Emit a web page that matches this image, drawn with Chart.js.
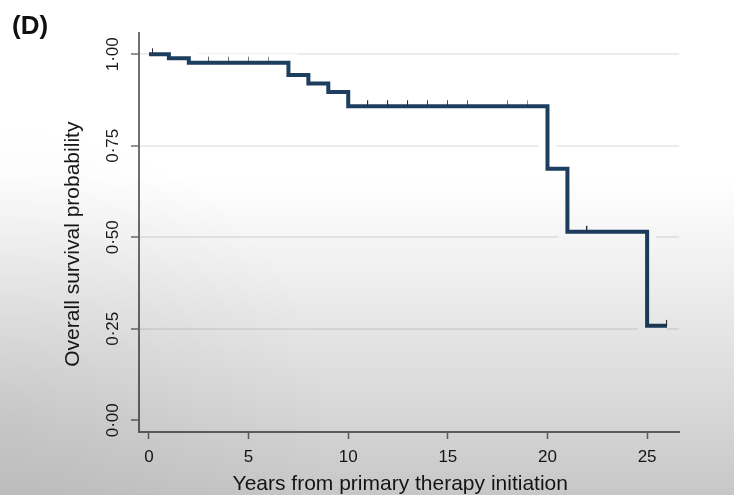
<!DOCTYPE html>
<html>
<head>
<meta charset="utf-8">
<script src="https://cdn.jsdelivr.net/npm/chart.js@4.4.1/dist/chart.umd.min.js"></script>
<style>
  html, body { margin: 0; padding: 0; background: #fff; }
  #wrap { position: relative; width: 734px; height: 495px; }
  #shade {
    position: absolute; left: 0; top: 0; width: 734px; height: 495px; pointer-events: none;
    background:
      radial-gradient(ellipse 45% 60% at 0% 85%, rgba(0,0,0,0.07), rgba(0,0,0,0) 100%),
      linear-gradient(to bottom, rgba(0,0,0,0) 36%, rgba(0,0,0,0.05) 52%, rgba(0,0,0,0.13) 75%, rgba(0,0,0,0.22) 100%);
  }
</style>
</head>
<body>
<div id="wrap">
  <canvas id="km" width="734" height="495"></canvas>
  <div id="shade"></div>
</div>
<script>
// Kaplan-Meier steps (value after each drop)
const years = [0, 1, 2, 7, 8, 9, 10, 20, 21, 25, 26];
const survival = [1.0, 0.989, 0.977, 0.943, 0.920, 0.897, 0.858, 0.687, 0.515, 0.258, 0.258];

// censored observations
const censorYears = [0.2, 3, 4, 5, 6, 11, 12, 13, 14, 15, 16, 18, 19, 22, 26];
const censorSurvival = [1.0, 0.977, 0.977, 0.977, 0.977, 0.858, 0.858, 0.858, 0.858, 0.858, 0.858, 0.858, 0.858, 0.515, 0.258];

const xTicks = [0, 5, 10, 15, 20, 25];
const yTicks = [0, 0.25, 0.5, 0.75, 1];
const yTickLabels = ['0·00', '0·25', '0·50', '0·75', '1·00'];

const navy = '#1e3e60';
const axisGrey = '#6f6f6f';

// small upward tick used as point style for censored points
const tick = document.createElement('canvas');
tick.width = 2;
tick.height = 14;
const tctx = tick.getContext('2d');
tctx.fillStyle = '#2a2f36';
tctx.fillRect(0, 1, 1, 6);

const curve = years.map((x, i) => ({ x: x, y: survival[i] }));
const censored = censorYears.map((x, i) => ({ x: x, y: censorSurvival[i] }));

new Chart(document.getElementById('km'), {
  type: 'line',
  data: {
    datasets: [
      {
        label: 'censored',
        data: censored,
        showLine: false,
        pointStyle: tick,
        pointRadius: 5,
        order: 0
      },
      {
        label: 'survival',
        data: curve,
        stepped: true,
        borderColor: navy,
        borderWidth: 4,
        borderJoinStyle: 'miter',
        pointRadius: 0,
        fill: false,
        order: 1
      },
      {
        label: 'halo',
        data: curve,
        stepped: true,
        borderColor: '#ffffff',
        borderWidth: 18,
        pointRadius: 0,
        fill: false,
        order: 2
      }
    ]
  },
  options: {
    responsive: false,
    animation: false,
    layout: { padding: { left: 12, right: 55, top: 0, bottom: 0 } },
    plugins: {
      legend: { display: false },
      tooltip: { enabled: false },
      title: {
        display: true,
        text: '(D)',
        align: 'start',
        color: '#111',
        font: { family: 'Liberation Sans, Arial, sans-serif', size: 26, weight: 'bold', lineHeight: 1 },
        padding: { top: 14, bottom: -7 }
      }
    },
    scales: {
      x: {
        type: 'linear',
        min: -0.5,
        max: 26.6,
        afterFit: s => { s.height = 63; },
        afterBuildTicks: s => { s.ticks = xTicks.map(v => ({ value: v })); },
        border: { display: true, color: axisGrey, width: 2 },
        grid: { display: true, drawOnChartArea: false, drawTicks: true, tickLength: 7, tickColor: axisGrey, tickWidth: 1.5 },
        ticks: {
          color: '#1a1a1a',
          padding: 8,
          maxRotation: 0,
          font: { family: 'Liberation Sans, Arial, sans-serif', size: 17 }
        },
        title: {
          display: true,
          text: 'Years from primary therapy initiation   ',
          color: '#1a1a1a',
          font: { family: 'Liberation Sans, Arial, sans-serif', size: 21, lineHeight: 1.2 },
          padding: { top: 0, bottom: -2 }
        }
      },
      y: {
        type: 'linear',
        min: -0.032,
        max: 1.058,
        afterFit: s => { s.width = 127; },
        afterBuildTicks: s => { s.ticks = yTicks.map(v => ({ value: v })); },
        border: { display: true, color: axisGrey, width: 2 },
        grid: {
          display: true,
          drawTicks: true,
          tickLength: 8,
          tickColor: axisGrey,
          tickWidth: 1.5,
          lineWidth: 2,
          color: c => (c.tick && c.tick.value === 0) ? 'rgba(0,0,0,0)' : '#ececec'
        },
        ticks: {
          color: '#1a1a1a',
          padding: 1,
          minRotation: 90,
          maxRotation: 90,
          crossAlign: 'center',
          font: { family: 'Liberation Sans, Arial, sans-serif', size: 17 },
          callback: (v) => {
            const i = yTicks.indexOf(v);
            return i >= 0 ? yTickLabels[i] : '';
          }
        },
        title: {
          display: true,
          text: 'Overall survival probability    ',
          color: '#1a1a1a',
          font: { family: 'Liberation Sans, Arial, sans-serif', size: 21, lineHeight: 1.2 },
          padding: { top: 49, bottom: 0 }
        }
      }
    }
  }
});
</script>
</body>
</html>
